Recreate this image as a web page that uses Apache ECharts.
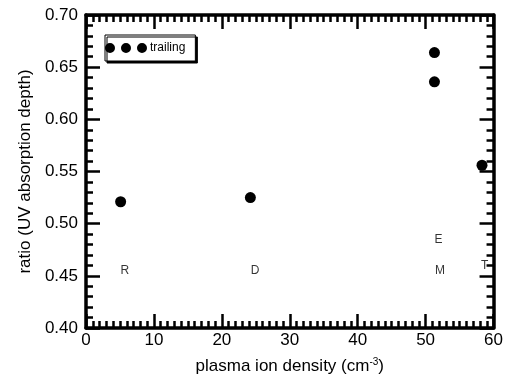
<!DOCTYPE html>
<html>
<head>
<meta charset="utf-8">
<script src="https://cdn.jsdelivr.net/npm/echarts@6/dist/echarts.min.js"></script>
<style>
  html, body { margin: 0; padding: 0; background: #fff; }
  #chart { width: 506px; height: 382px; }
</style>
</head>
<body>
<div id="chart"></div>
<script>
// trailing points: plasma ion density vs ratio
const densities = [5.1, 24.2, 51.3, 51.3, 58.3];
const ratios = [0.521, 0.525, 0.664, 0.636, 0.556];

// letter annotations
const noteText = ['R', 'D', 'E', 'M', 'T'];
const noteX = [5.7, 24.9, 51.9, 52.1, 58.7];
const noteY = [0.455, 0.455, 0.485, 0.455, 0.460];

const xTicks = [0, 10, 20, 30, 40, 50, 60];
const yTicks = [0.40, 0.45, 0.50, 0.55, 0.60, 0.65, 0.70];

const font = 'Liberation Sans, Arial, Helvetica, sans-serif';
const black = '#000';

// three dots for the legend marker
const threeDots = 'path://M0,5a5,5 0 1,0 10,0a5,5 0 1,0 -10,0Z' +
  'M16,5a5,5 0 1,0 10,0a5,5 0 1,0 -10,0Z' +
  'M32,5a5,5 0 1,0 10,0a5,5 0 1,0 -10,0Z';

const chart = echarts.init(document.getElementById('chart'), null, { renderer: 'canvas' });

function axisBits(showLabel) {
  return {
    axisLine: { show: true, onZero: false, lineStyle: { color: black, width: 3.5 } },
    axisTick: { show: true, inside: true, length: 14, lineStyle: { color: black, width: 2.5 } },
    splitLine: { show: false },
    axisLabel: { show: showLabel }
  };
}

const xBase = {
  type: 'value', min: xTicks[0], max: xTicks[xTicks.length - 1], interval: 10
};
const yBase = {
  type: 'value', min: yTicks[0], max: yTicks[yTicks.length - 1], interval: 0.05
};
const xMinor = { show: true, splitNumber: 10, length: 7, lineStyle: { color: black, width: 2.5 } };
const yMinor = { show: true, splitNumber: 5, length: 7, lineStyle: { color: black, width: 2.5 } };

const option = {
  animation: false,
  backgroundColor: '#fff',
  textStyle: { fontFamily: font, color: black },
  grid: { left: 86, right: 9, top: 15, bottom: 54 },
  legend: {
    data: ['trailing'],
    left: 105,
    top: 35,
    orient: 'vertical',
    icon: threeDots,
    itemWidth: 42,
    itemHeight: 10,
    itemGap: 0,
    padding: [7, 10, 7, 0],
    borderColor: black,
    borderWidth: 1,
    backgroundColor: '#fff',
    shadowColor: black,
    shadowBlur: 0,
    shadowOffsetX: 2,
    shadowOffsetY: 2,
    itemStyle: { color: black, opacity: 1 },
    textStyle: { fontSize: 12, color: black, fontFamily: font, padding: [0, 0, 0, -2] }
  },
  xAxis: [
    Object.assign({}, xBase, axisBits(true), {
      position: 'bottom',
      minorTick: xMinor,
      axisLabel: { show: true, fontSize: 17, color: black, fontFamily: font, margin: 4 },
      name: '{n|plasma ion density (cm}{s|-3}{n|)}',
      nameLocation: 'middle',
      nameGap: 29,
      nameTextStyle: {
        rich: {
          n: { fontSize: 17, color: black, fontFamily: font },
          s: { fontSize: 10, color: black, fontFamily: font, verticalAlign: 'top', padding: [0, 0, 9, 0] }
        }
      }
    }),
    Object.assign({}, xBase, axisBits(false), { position: 'top', minorTick: xMinor })
  ],
  yAxis: [
    Object.assign({}, yBase, axisBits(true), {
      position: 'left',
      minorTick: yMinor,
      axisLabel: {
        show: true, fontSize: 17, color: black, fontFamily: font, margin: 8,
        formatter: (v) => v.toFixed(2)
      },
      name: 'ratio (UV absorption depth)',
      nameLocation: 'middle',
      nameGap: 49,
      nameTextStyle: { fontSize: 17, color: black, fontFamily: font }
    }),
    Object.assign({}, yBase, axisBits(false), { position: 'right', minorTick: yMinor })
  ],
  series: [
    {
      name: 'trailing',
      type: 'scatter',
      symbol: 'circle',
      symbolSize: 11,
      itemStyle: { color: black, opacity: 1 },
      data: densities.map((d, i) => [d, ratios[i]])
    },
    {
      name: 'notes',
      type: 'scatter',
      symbolSize: 0.1,
      itemStyle: { color: 'transparent' },
      label: {
        show: true,
        position: 'inside',
        fontSize: 12,
        color: black,
        fontFamily: font,
        formatter: (p) => p.value[2]
      },
      data: noteText.map((t, i) => [noteX[i], noteY[i], t])
    }
  ]
};

chart.setOption(option);
</script>
</body>
</html>
